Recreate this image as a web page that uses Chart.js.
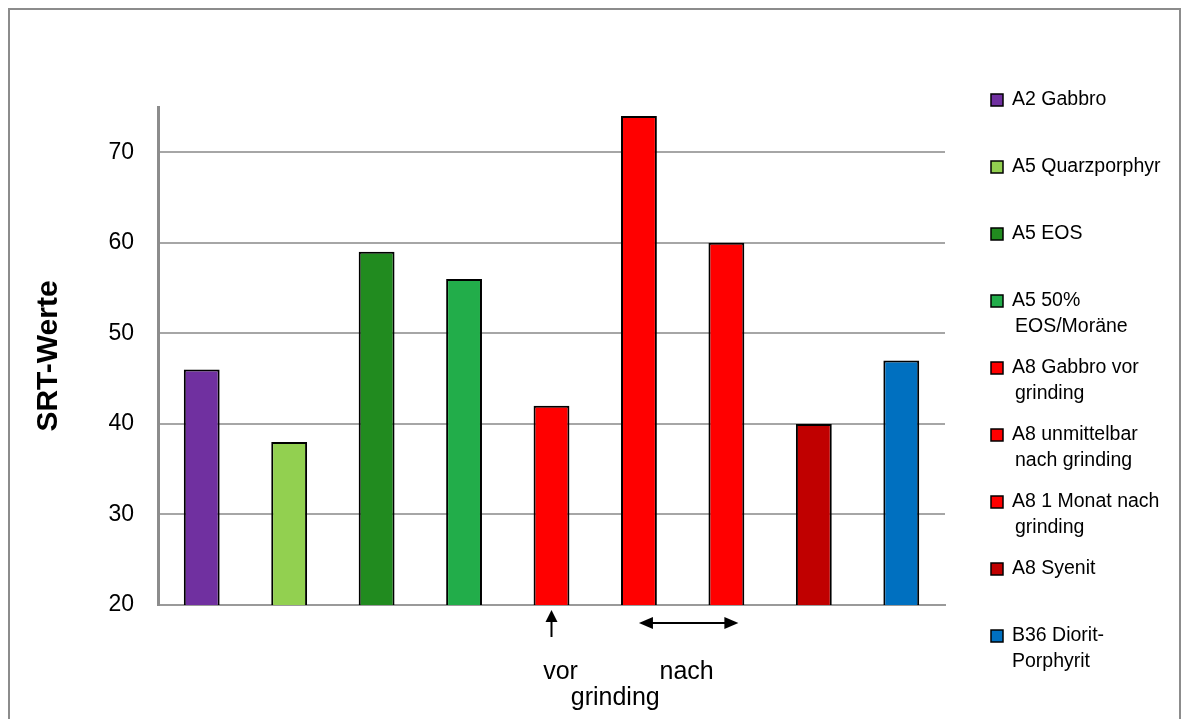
<!DOCTYPE html>
<html>
<head>
<meta charset="utf-8">
<script src="https://cdn.jsdelivr.net/npm/chart.js@4/dist/chart.umd.min.js"></script>
<style>
  html,body{margin:0;padding:0;background:#fff;}
  #wrap{width:1182px;height:719px;position:relative;}
</style>
</head>
<body>
<div id="wrap"><canvas id="chart1" width="1182" height="719"></canvas></div>
<script>
// data
const categories = [
    ["A2 Gabbro"],
    ["A5 Quarzporphyr"],
    ["A5 EOS"],
    ["A5 50%", "EOS/Moräne"],
    ["A8 Gabbro vor", "grinding"],
    ["A8 unmittelbar", "nach grinding"],
    ["A8 1 Monat nach", "grinding"],
    ["A8 Syenit"],
    ["B36 Diorit-", "Porphyrit"]
];
const srtValues = [46, 38, 59, 56, 42, 74, 60, 40, 47];
const barColors = ["#7030A0", "#92D050", "#218B1F", "#22AD4A", "#FF0000", "#FF0000", "#FF0000", "#C00000", "#0070C0"];
const yTicks = [20, 30, 40, 50, 60, 70];
const yTitle = "SRT-Werte";
const noteVor = "vor";
const noteNach = "nach";
const noteGrinding = "grinding";

const FONT = "'Liberation Sans', Arial, sans-serif";

// frame around the whole chart
const framePlugin = {
    id:"frame",
    beforeDraw(chart){
        const c = chart.ctx;
        c.save();
        c.fillStyle = "#fff";
        c.fillRect(0,0,chart.width,chart.height);
        c.strokeStyle = "#8c8c8c";
        c.lineWidth = 2;
        c.strokeRect(9,9,1171,730);
        c.restore();
    }
};

// legend on the right, one entry per bar, wrapped text
const sideLegend = {
    id:"sideLegend",
    afterDraw(chart){
        const c = chart.ctx;
        const x0 = 991, y0 = 100, step = 67, lh = 26;
        c.save();
        c.font = "19.5px " + FONT;
        c.textBaseline = "middle";
        categories.forEach((lines, i) => {
            const y = y0 + i*step;
            c.fillStyle = barColors[i];
            c.fillRect(x0, y-6, 12, 12);
            c.strokeStyle = "#000";
            c.lineWidth = 1.5;
            c.strokeRect(x0, y-6, 12, 12);
            c.fillStyle = "#000";
            lines.forEach((t, j) => {
                c.fillText(t, x0 + 21 + (j>0 && i!==8 ? 3 : 0), y + j*lh);
            });
        });
        c.restore();
    }
};

// arrows and notes under the red bars
const notes = {
    id:"notes",
    afterDraw(chart){
        const c = chart.ctx;
        const xs = chart.scales.x;
        const base = chart.scales.y.getPixelForValue(20);
        const xv = xs.getPixelForValue(4);
        const xa = xs.getPixelForValue(5);
        const xb = xs.getPixelForValue(6) + 12;
        c.save();
        c.strokeStyle = "#000";
        c.fillStyle = "#000";
        c.lineWidth = 2;
        // up arrow
        c.beginPath(); c.moveTo(xv, base+32); c.lineTo(xv, base+14); c.stroke();
        c.beginPath(); c.moveTo(xv, base+5); c.lineTo(xv-6, base+17); c.lineTo(xv+6, base+17); c.closePath(); c.fill();
        // double arrow
        const ya = base + 18;
        c.beginPath(); c.moveTo(xa+10, ya); c.lineTo(xb-10, ya); c.stroke();
        c.beginPath(); c.moveTo(xa, ya); c.lineTo(xa+14, ya-6); c.lineTo(xa+14, ya+6); c.closePath(); c.fill();
        c.beginPath(); c.moveTo(xb, ya); c.lineTo(xb-14, ya-6); c.lineTo(xb-14, ya+6); c.closePath(); c.fill();
        c.font = "25px " + FONT;
        c.textAlign = "center";
        c.textBaseline = "middle";
        c.fillText(noteVor, xv+9, base+67);
        c.fillText(noteNach, (xa+xb)/2-2, base+67);
        c.fillText(noteGrinding, (xv+xa)/2+20, base+93);
        c.restore();
    }
};

new Chart(document.getElementById("chart1"),{
    type:"bar",
    data:{
        labels:categories,
        datasets:[{
            label:yTitle,
            data:srtValues,
            backgroundColor:barColors,
            borderColor:"#000",
            borderWidth:2,
            borderSkipped:false,
            barPercentage:0.41,
            categoryPercentage:1
        }]
    },
    options:{
        responsive:false,
        animation:false,
        layout:{padding:{left:31, right:237, top:107, bottom:114}},
        plugins:{legend:{display:false}, tooltip:{enabled:false}},
        scales:{
            x:{
                ticks:{display:false},
                grid:{display:false, drawTicks:false},
                border:{color:"#9a9a9a", width:2}
            },
            y:{
                min:20, max:75,
                afterFit(s){ s.width = 127; },
                afterBuildTicks(s){ s.ticks = yTicks.map(v => ({value:v})).concat([{value:75}]); },
                ticks:{
                    padding:24,
                    color:"#000",
                    font:{family:FONT, size:23},
                    callback:v => yTicks.includes(v) ? v : ""
                },
                grid:{
                    drawTicks:false,
                    color:ctx => ctx.tick && ctx.tick.value === 75 ? "rgba(0,0,0,0)" : "#a6a6a6",
                    lineWidth:2
                },
                border:{color:"#8c8c8c", width:3},
                title:{
                    display:true,
                    text:yTitle,
                    color:"#000",
                    padding:0,
                    font:{family:FONT, size:30, weight:"bold"}
                }
            }
        }
    },
    plugins:[framePlugin, sideLegend, notes]
});
</script>
</body>
</html>
